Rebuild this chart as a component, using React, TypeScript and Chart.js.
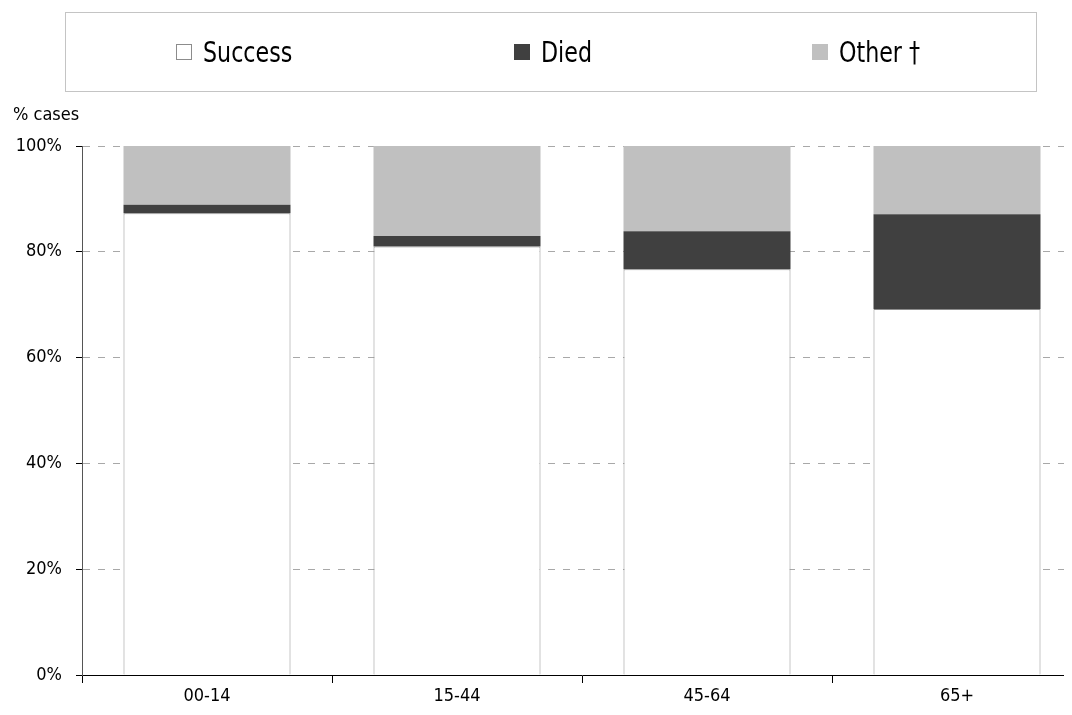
import React, { useEffect, useRef } from 'react';
import { Chart, registerables } from 'chart.js';

Chart.register(...registerables);

const categories = ['00-14', '15-44', '45-64', '65+'];
const successValues = [87.3, 81.0, 76.7, 69.2];
const diedValues = [1.6, 2.0, 7.2, 17.9];
const otherValues = [11.1, 17.0, 16.1, 12.9];
const seriesLabels = ['Success', 'Died', 'Other †'];
const axisTitle = '% cases';

const FONT = '"DejaVu Sans Condensed", "Liberation Sans", sans-serif';
const seriesFill = ['#ffffff', '#404040', '#c0c0c0'];
const seriesBorder = ['#8c8c8c', '#404040', '#c0c0c0'];
const legendLeft = [168, 506, 804];

const titlePlugin = {
  id: 'yTitle',
  afterDraw(chart: any) {
    const ctx = chart.ctx;
    ctx.save();
    ctx.font = `18px ${FONT}`;
    ctx.fillStyle = '#000';
    ctx.textAlign = 'left';
    ctx.textBaseline = 'middle';
    ctx.fillText(axisTitle, 5, 107);
    ctx.restore();
  },
};

export default function App() {
  const ref = useRef<HTMLCanvasElement>(null);

  useEffect(() => {
    const values = [successValues, diedValues, otherValues];
    const chart = new Chart(ref.current as HTMLCanvasElement, {
      type: 'bar',
      data: {
        labels: categories,
        datasets: seriesLabels.map((label, i) => ({
          label,
          data: values[i],
          backgroundColor: seriesFill[i],
          borderColor: seriesBorder[i],
          borderWidth: i === 0 ? 1 : 0,
          categoryPercentage: 1,
          barPercentage: 0.668,
        })),
      },
      options: {
        responsive: false,
        animation: false,
        devicePixelRatio: 1,
        layout: { padding: { top: 138, right: 16, left: 0, bottom: 0 } },
        plugins: {
          legend: { display: false },
          tooltip: { enabled: false },
        },
        scales: {
          x: {
            stacked: true,
            grid: {
              offset: true,
              drawOnChartArea: false,
              drawTicks: true,
              tickLength: 8,
              color: '#000',
            },
            border: { display: true, color: '#000', width: 1 },
            ticks: {
              color: '#000',
              padding: 3,
              font: { family: FONT, size: 18 },
            },
            afterFit(scale: any) {
              scale.height = 32;
            },
          },
          y: {
            stacked: true,
            min: 0,
            max: 100,
            ticks: {
              stepSize: 20,
              color: '#000',
              padding: 14,
              font: { family: FONT, size: 18 },
              callback: (v: any) => `${v}%`,
            },
            grid: {
              color: (c: any) => (c.tick && c.tick.value === 0 ? 'rgba(0,0,0,0)' : '#a8a8a8'),
              tickColor: '#000',
              tickLength: 6,
              lineWidth: 1,
              tickBorderDash: [],
            },
            border: { display: true, color: '#555', width: 1, dash: [7, 8] },
            afterFit(scale: any) {
              scale.width = 74;
            },
          },
        },
      },
      plugins: [titlePlugin],
    });
    return () => chart.destroy();
  }, []);

  return (
    <div style={{ position: 'relative', width: 1064, height: 699, overflow: 'hidden' }}>
      <canvas
        ref={ref}
        width={1090}
        height={699}
        style={{ position: 'absolute', left: 0, top: 0, width: 1090, height: 699 }}
      />
      <div
        style={{
          position: 'absolute',
          left: 57,
          top: 4,
          width: 972,
          height: 80,
          boxSizing: 'border-box',
          border: '1px solid #c4c4c4',
        }}
      />
      {seriesLabels.map((label, i) => (
        <div
          key={label}
          style={{
            position: 'absolute',
            left: legendLeft[i],
            top: 29,
            height: 30,
            display: 'flex',
            alignItems: 'center',
            whiteSpace: 'nowrap',
          }}
        >
          <div
            style={{
              width: 16,
              height: 16,
              boxSizing: 'border-box',
              background: seriesFill[i],
              border: i === 0 ? '1px solid #8c8c8c' : 'none',
              marginRight: 11,
              flex: 'none',
            }}
          />
          <span
            style={{
              display: 'inline-block',
              fontFamily: FONT,
              fontSize: 29,
              color: '#000',
              lineHeight: 1,
              transform: 'scaleX(0.85)',
              transformOrigin: 'left center',
            }}
          >
            {label}
          </span>
        </div>
      ))}
    </div>
  );
}
